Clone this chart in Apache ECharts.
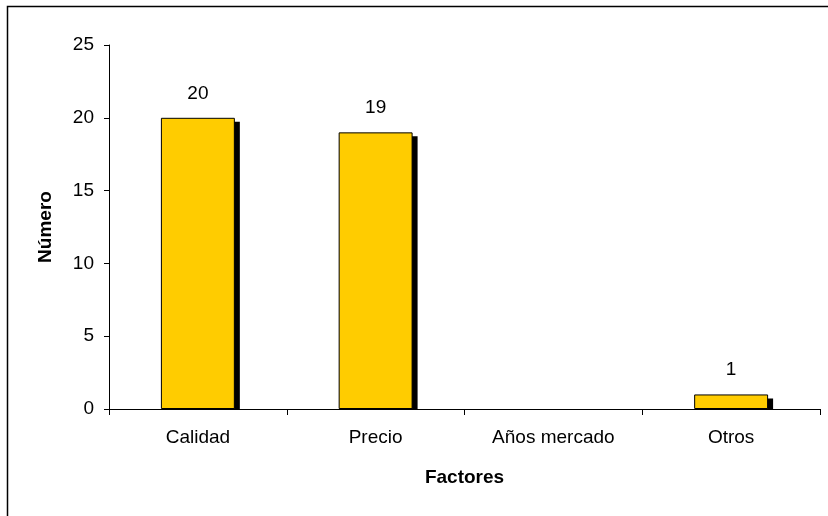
<!DOCTYPE html>
<html>
<head>
<meta charset="utf-8">
<script src="https://cdn.jsdelivr.net/npm/echarts@6/dist/echarts.min.js"></script>
<style>
  html, body { margin: 0; padding: 0; background: #fff; }
  #chart { width: 828px; height: 516px; }
</style>
</head>
<body>
<div id="chart"></div>
<script>
// Factores considerados (número de respuestas)
const categories = ['Calidad', 'Precio', 'Años mercado', 'Otros'];
const values = [20, 19, 0, 1];
const yTicks = { min: 0, max: 25, interval: 5 };

const FONT = '"Liberation Sans", Arial, sans-serif';
const FS = 19;
const BAR_RATIO = 0.416;
const chart = echarts.init(document.getElementById('chart'));

chart.setOption({
  animation: false,
  backgroundColor: '#ffffff',
  graphic: [{
    type: 'rect',
    shape: { x: 7.5, y: 6.5, width: 1000, height: 1000 },
    style: { fill: 'none', stroke: '#000', lineWidth: 1.5 },
    silent: true
  }],
  grid: { left: 109, top: 45, right: 8, bottom: 107 },
  xAxis: {
    type: 'category',
    data: categories,
    name: 'Factores',
    nameLocation: 'middle',
    nameGap: 59,
    nameTextStyle: { fontFamily: FONT, fontSize: FS, fontWeight: 'bold', color: '#000' },
    axisLine: { lineStyle: { color: '#000', width: 1 } },
    axisTick: { show: true, alignWithLabel: false, length: 6, lineStyle: { color: '#000' } },
    axisLabel: { fontFamily: FONT, fontSize: FS, color: '#000', margin: 19 }
  },
  yAxis: {
    type: 'value',
    min: yTicks.min,
    max: yTicks.max,
    interval: yTicks.interval,
    name: 'Número',
    nameLocation: 'middle',
    nameGap: 54,
    nameTextStyle: { fontFamily: FONT, fontSize: FS, fontWeight: 'bold', color: '#000' },
    axisLine: { show: true, lineStyle: { color: '#000', width: 1 } },
    axisTick: { show: true, length: 5, lineStyle: { color: '#000' } },
    axisLabel: { fontFamily: FONT, fontSize: FS, color: '#000', margin: 15 },
    splitLine: { show: false }
  },
  series: [
    {
      // drop shadow behind each bar, clipped at the baseline
      type: 'custom',
      z: 1,
      silent: true,
      data: values.map((v, i) => [i, v]),
      renderItem: function (params, api) {
        const v = api.value(1);
        if (!v) return null;
        const top = api.coord([api.value(0), v]);
        const base = api.coord([api.value(0), 0]);
        const w = api.size([1, 0])[0] * BAR_RATIO;
        const dx = 5, dy = 4;
        return {
          type: 'rect',
          shape: { x: top[0] - w / 2 + dx, y: top[1] + dy, width: w, height: base[1] - top[1] - dy },
          style: { fill: '#000' }
        };
      }
    },
    {
      type: 'bar',
      z: 2,
      data: values.map(v => ({
        value: v,
        itemStyle: v ? {} : { borderWidth: 0, opacity: 0 }
      })),
      barWidth: (BAR_RATIO * 100) + '%',
      itemStyle: { color: '#FFCC00', borderColor: '#000', borderWidth: 1 },
      label: {
        show: true,
        position: 'top',
        distance: 15,
        fontFamily: FONT,
        fontSize: FS,
        color: '#000',
        formatter: p => (p.value ? String(p.value) : '')
      }
    }
  ]
});
</script>
</body>
</html>
